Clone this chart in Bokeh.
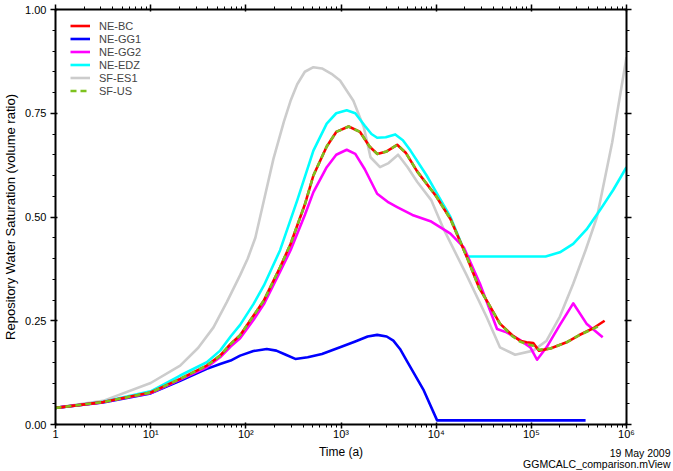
import numpy as np
from bokeh.plotting import figure
from bokeh.models import (LogAxis, LinearAxis, FixedTicker, Legend, LegendItem, Title,
                          Range1d, CustomJSTickFormatter)
from bokeh.embed import file_html
from bokeh.resources import INLINE

# ---------------- data (time as log10 of years, saturation) ----------------
bc_logt = [0.0, 0.5, 1.0, 1.31, 1.59, 1.73, 1.84, 1.94, 2.08, 2.19, 2.36, 2.47, 2.62, 2.71, 2.85,
           2.95, 3.08, 3.2, 3.3, 3.38, 3.48, 3.59, 3.68, 3.8, 4.0, 4.15, 4.32, 4.45, 4.53, 4.67,
           4.8, 4.88, 4.95, 5.02, 5.08, 5.2, 5.37, 5.5, 5.65, 5.77]
bc_sat = [0.040, 0.054, 0.077, 0.110, 0.142, 0.166, 0.194, 0.215, 0.262, 0.299, 0.379, 0.435,
          0.530, 0.600, 0.670, 0.705, 0.718, 0.705, 0.670, 0.652, 0.658, 0.674, 0.655, 0.610,
          0.550, 0.495, 0.405, 0.330, 0.299, 0.243, 0.215, 0.202, 0.198, 0.196, 0.178, 0.183,
          0.198, 0.215, 0.232, 0.250]

us_logt = [0.0, 0.5, 1.0, 1.31, 1.59, 1.73, 1.84, 1.94, 2.08, 2.19, 2.36, 2.47, 2.62, 2.71, 2.85,
           2.95, 3.08, 3.2, 3.3, 3.38, 3.48, 3.59, 3.68, 3.8, 4.0, 4.15, 4.32, 4.45, 4.53, 4.67,
           4.8, 4.88, 4.95, 5.02, 5.08, 5.2, 5.37, 5.5, 5.72]
us_sat = [0.040, 0.054, 0.077, 0.110, 0.142, 0.166, 0.194, 0.215, 0.262, 0.299, 0.379, 0.435,
          0.530, 0.600, 0.670, 0.705, 0.718, 0.705, 0.670, 0.652, 0.658, 0.674, 0.655, 0.610,
          0.550, 0.495, 0.405, 0.330, 0.299, 0.243, 0.213, 0.200, 0.194, 0.190, 0.180, 0.183,
          0.198, 0.215, 0.238]

gg2_logt = [0.0, 0.5, 1.0, 1.31, 1.59, 1.73, 1.84, 1.94, 2.08, 2.19, 2.36, 2.47, 2.62, 2.71,
            2.85, 2.95, 3.06, 3.15, 3.25, 3.38, 3.5, 3.59, 3.75, 3.94, 4.15, 4.29, 4.46, 4.64,
            4.74, 4.87, 4.99, 5.06, 5.16, 5.30, 5.44, 5.58, 5.75]
gg2_sat = [0.040, 0.054, 0.076, 0.108, 0.138, 0.162, 0.188, 0.208, 0.252, 0.290, 0.368, 0.420,
           0.505, 0.560, 0.620, 0.650, 0.662, 0.652, 0.615, 0.556, 0.535, 0.524, 0.505, 0.490,
           0.460, 0.427, 0.339, 0.230, 0.222, 0.205, 0.186, 0.156, 0.186, 0.240, 0.292, 0.243,
           0.210]

edz_logt = [0.0, 0.5, 1.0, 1.31, 1.59, 1.73, 1.84, 1.94, 2.08, 2.19, 2.36, 2.54, 2.71, 2.85,
            2.95, 3.06, 3.15, 3.25, 3.32, 3.38, 3.47, 3.57, 3.65, 3.73, 3.9, 4.0, 4.15, 4.32,
            4.7, 5.15, 5.3, 5.44, 5.58, 5.72, 5.86, 6.0]
edz_sat = [0.040, 0.055, 0.080, 0.118, 0.150, 0.178, 0.212, 0.240, 0.290, 0.335, 0.420, 0.540,
           0.660, 0.725, 0.750, 0.757, 0.750, 0.720, 0.700, 0.691, 0.692, 0.699, 0.685, 0.660,
           0.600, 0.560, 0.500, 0.405, 0.405, 0.405, 0.415, 0.435, 0.470, 0.516, 0.565, 0.620]

es1_logt = [0.0, 0.5, 1.0, 1.31, 1.5, 1.66, 1.8, 1.94, 2.02, 2.10, 2.2, 2.29, 2.4, 2.47, 2.54,
            2.62, 2.71, 2.8, 2.9, 2.99, 3.13, 3.24, 3.31, 3.41, 3.5, 3.6, 3.7, 3.8, 3.95, 4.08,
            4.32, 4.53, 4.67, 4.83, 5.02, 5.16, 5.3, 5.44, 5.57, 5.69, 5.85, 6.0]
es1_sat = [0.040, 0.057, 0.100, 0.142, 0.185, 0.234, 0.295, 0.360, 0.400, 0.450, 0.550, 0.640,
           0.730, 0.780, 0.820, 0.850, 0.861, 0.858, 0.845, 0.829, 0.780, 0.716, 0.644, 0.620,
           0.630, 0.650, 0.620, 0.585, 0.540, 0.470, 0.360, 0.259, 0.186, 0.168, 0.178, 0.202,
           0.260, 0.339, 0.420, 0.500, 0.680, 0.885]

gg1_logt = [0.0, 0.5, 1.0, 1.31, 1.59, 1.73, 1.84, 1.94, 2.08, 2.22, 2.32, 2.42, 2.52, 2.65,
            2.8, 2.99, 3.15, 3.28, 3.38, 3.48, 3.55, 3.62, 3.69, 3.87, 4.01, 4.5, 5.0, 5.57]
gg1_sat = [0.040, 0.053, 0.075, 0.105, 0.134, 0.146, 0.154, 0.166, 0.177, 0.182, 0.178, 0.168,
           0.158, 0.162, 0.170, 0.186, 0.200, 0.212, 0.216, 0.212, 0.202, 0.182, 0.154, 0.082,
           0.010, 0.010, 0.010, 0.010]

x_major = [1, 10, 100, 1000, 10000, 100000, 1000000]
x_labels = ["1", "10¹", "10²", "10³", "10⁴", "10⁵", "10⁶"]
y_major = [0.0, 0.25, 0.5, 0.75, 1.0]
y_labels = ["0.00", "0.25", "0.50", "0.75", "1.00"]
footer = "19 May 2009\nGGMCALC_comparison.mView"

FONT = "Liberation Sans"

p = figure(width=673, height=471, x_axis_type="log",
           x_range=Range1d(1, 1e6), y_range=Range1d(0, 1),
           output_backend="svg", toolbar_location=None,
           min_border_left=55, min_border_right=47, min_border_top=9, min_border_bottom=47)
p.outline_line_color = None
p.grid.visible = False
p.background_fill_color = "white"
p.border_fill_color = "white"

x_minor = [k * 10 ** d for d in range(0, 6) for k in range(2, 10)]
y_minor = [round(0.05 * i, 2) for i in range(21) if i % 5 != 0]
xt = FixedTicker(ticks=x_major, minor_ticks=x_minor)
yt = FixedTicker(ticks=y_major, minor_ticks=y_minor)


def style(ax, labels):
    ax.axis_line_width = 2
    ax.axis_line_color = "black"
    ax.major_tick_line_width = 1.5
    ax.minor_tick_line_width = 1
    ax.major_tick_out = 5
    ax.major_tick_in = 2
    ax.minor_tick_out = 3
    ax.minor_tick_in = 0
    ax.major_label_text_font = FONT
    ax.major_label_text_font_size = "11px"
    ax.major_label_text_color = "black"
    ax.axis_label_text_font = FONT
    ax.axis_label_text_font_size = "12px"
    ax.axis_label_text_font_style = "normal"
    ax.axis_label_text_color = "black"
    if not labels:
        ax.formatter = CustomJSTickFormatter(code="return ''")
        ax.major_label_text_color = None
        ax.major_label_standoff = 0


xa = p.xaxis[0]
xa.ticker = xt
xa.major_label_overrides = {v: s for v, s in zip(x_major, x_labels)}
style(xa, True)
xa.major_tick_out = 4
xa.axis_label = "Time (a)"
xa.major_label_standoff = -1
xa.axis_label_standoff = 2

ya = p.yaxis[0]
ya.ticker = yt
ya.major_label_overrides = {v: s for v, s in zip(y_major, y_labels)}
style(ya, True)
ya.axis_label = "Repository Water Saturation (volume ratio)"
ya.axis_label_text_font_size = "13px"
ya.major_label_standoff = 4
ya.axis_label_standoff = 4

top = LogAxis(ticker=xt)
style(top, False)
p.add_layout(top, "above")
right = LinearAxis(ticker=yt)
style(right, False)
p.add_layout(right, "right")

series = [
    ("NE-BC", bc_logt, bc_sat, "#ff0000", "solid"),
    ("NE-GG1", gg1_logt, gg1_sat, "#0000ff", "solid"),
    ("NE-GG2", gg2_logt, gg2_sat, "#ff00ff", "solid"),
    ("NE-EDZ", edz_logt, edz_sat, "#00ffff", "solid"),
    ("SF-ES1", es1_logt, es1_sat, "#cccccc", "solid"),
    ("SF-US", us_logt, us_sat, "#7dc21e", "6 4"),
]

renderers = {}
draw_order = ["SF-ES1", "NE-EDZ", "NE-GG1", "NE-GG2", "NE-BC", "SF-US"]
for name in draw_order:
    nm, lt, sat, col, dash = [s for s in series if s[0] == name][0]
    r = p.line(np.power(10.0, np.array(lt)), sat, line_color=col, line_width=2.6,
               line_dash=dash, line_join="round")
    renderers[name] = r
items = [LegendItem(label=nm, renderers=[renderers[nm]]) for nm, *_ in series]

legend = Legend(items=items, location=(15, 327))
legend.background_fill_alpha = 0
legend.border_line_color = None
legend.glyph_width = 20
legend.glyph_height = 13
legend.label_height = 13
legend.spacing = 0
legend.label_standoff = 9
legend.padding = 2
legend.margin = 0
legend.label_text_font = FONT
legend.label_text_font_size = "11px"
p.add_layout(legend)

foot = Title(text=footer, align="right", vertical_align="top", offset=-44, standoff=-30,
             text_font=FONT, text_font_size="10.5px", text_font_style="normal",
             text_color="black", text_line_height=0.92, text_align="right")
p.add_layout(foot, "below")

open("out.html", "w").write(file_html(p, INLINE))
